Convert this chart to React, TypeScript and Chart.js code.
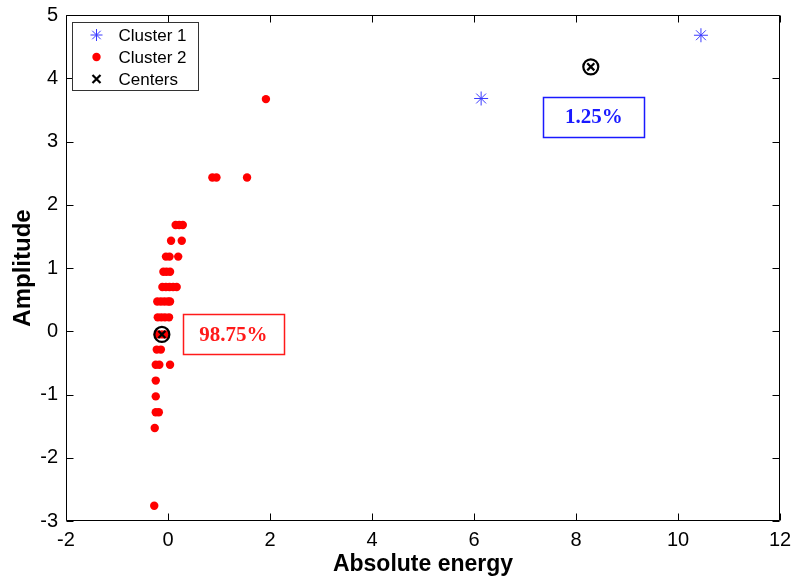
import React, { useEffect, useRef } from "react";
import { Chart, registerables } from "chart.js";

Chart.register(...registerables);

// ---- data ----
const cluster1X = [6.14, 10.45];
const cluster1Y = [3.68, 4.68];

const cluster2X = [
  1.92,
  0.87, 0.95, 1.55,
  0.15, 0.22, 0.29,
  0.06, 0.27,
  -0.04, 0.03, 0.2,
  -0.09, -0.03, 0.04,
  -0.11, -0.04, 0.03, 0.1, 0.17,
  -0.21, -0.14, -0.07, 0.0, 0.04,
  -0.2, -0.13, -0.06, 0.02,
  -0.2, -0.12, -0.05,
  -0.22, -0.14,
  -0.24, -0.17, 0.04,
  -0.24,
  -0.24,
  -0.24, -0.18,
  -0.26,
  -0.27,
];
const cluster2Y = [
  3.67,
  2.43, 2.43, 2.43,
  1.68, 1.68, 1.68,
  1.43, 1.43,
  1.18, 1.18, 1.18,
  0.94, 0.94, 0.94,
  0.7, 0.7, 0.7, 0.7, 0.7,
  0.47, 0.47, 0.47, 0.47, 0.47,
  0.22, 0.22, 0.22, 0.22,
  -0.05, -0.05, -0.05,
  -0.29, -0.29,
  -0.53, -0.53, -0.53,
  -0.78,
  -1.03,
  -1.28, -1.28,
  -1.53,
  -2.76,
];

const centersX = [8.29, -0.12];
const centersY = [4.18, -0.05];

const seriesNames = ["Cluster 1", "Cluster 2", "Centers"];
const annotationTexts = ["98.75%", "1.25%"];
const annotationColors = ["#ff1a1a", "#1a1aff"];
// boxes in data units: [xMin, xMax, yMin, yMax]
const annotationBoxes = [
  [0.29, 2.27, -0.37, 0.27],
  [7.36, 9.34, 3.07, 3.71],
];

const xMin = -2, xMax = 12, xStep = 2;
const yMin = -3, yMax = 5, yStep = 1;

const toPoints = (xs: number[], ys: number[]) => xs.map((x, i) => ({ x, y: ys[i] }));

const BLUE = "#3a3aff";
const RED = "#ff0000";

const framePlugin = {
  id: "matlabFrame",
  afterDatasetsDraw(chart: any) {
    const { ctx, chartArea: a, scales } = chart;
    ctx.save();
    ctx.strokeStyle = "#000";
    ctx.lineWidth = 1;
    const L = Math.round(a.left) + 0.5, R = Math.round(a.right) - 0.5;
    const T = Math.round(a.top) + 0.5, B = Math.round(a.bottom) - 0.5;
    ctx.beginPath();
    ctx.rect(L, T, R - L, B - T);
    const tl = 7;
    scales.x.ticks.forEach((t: any) => {
      const px = Math.round(scales.x.getPixelForValue(t.value)) + 0.5;
      ctx.moveTo(px, B); ctx.lineTo(px, B - tl);
      ctx.moveTo(px, T); ctx.lineTo(px, T + tl);
    });
    scales.y.ticks.forEach((t: any) => {
      const py = Math.round(scales.y.getPixelForValue(t.value)) + 0.5;
      ctx.moveTo(L, py); ctx.lineTo(L + tl, py);
      ctx.moveTo(R, py); ctx.lineTo(R - tl, py);
    });
    ctx.stroke();

    // annotation boxes
    annotationBoxes.forEach((b, i) => {
      const x1 = scales.x.getPixelForValue(b[0]);
      const x2 = scales.x.getPixelForValue(b[1]);
      const y1 = scales.y.getPixelForValue(b[3]);
      const y2 = scales.y.getPixelForValue(b[2]);
      ctx.strokeStyle = annotationColors[i];
      ctx.lineWidth = 1.5;
      ctx.strokeRect(Math.round(x1) + 0.5, Math.round(y1) + 0.5, Math.round(x2 - x1), Math.round(y2 - y1));
      ctx.fillStyle = annotationColors[i];
      ctx.font = "bold 21px 'Liberation Serif', 'Times New Roman', serif";
      ctx.textAlign = "center";
      ctx.textBaseline = "middle";
      ctx.fillText(annotationTexts[i], (x1 + x2) / 2, (y1 + y2) / 2 + 1);
    });
    ctx.restore();
  },
  afterDraw(chart: any) {
    const { ctx, chartArea: a } = chart;
    ctx.save();
    const bx = Math.round(a.left) + 6.5, by = Math.round(a.top) + 7.5;
    const bw = 126, bh = 68;
    ctx.fillStyle = "#fff";
    ctx.fillRect(bx, by, bw, bh);
    ctx.strokeStyle = "#333";
    ctx.lineWidth = 1;
    ctx.strokeRect(bx, by, bw, bh);
    const rows = [by + 12.5, by + 34.5, by + 56.5];
    const mx = bx + 24, tx = bx + 46;
    // Cluster 1 star
    ctx.strokeStyle = BLUE;
    ctx.lineWidth = 1;
    ctx.beginPath();
    const r = 6;
    for (let k = 0; k < 4; k++) {
      const ang = (k * Math.PI) / 4;
      ctx.moveTo(mx - r * Math.cos(ang), rows[0] - r * Math.sin(ang));
      ctx.lineTo(mx + r * Math.cos(ang), rows[0] + r * Math.sin(ang));
    }
    ctx.stroke();
    // Cluster 2 dot
    ctx.fillStyle = RED;
    ctx.beginPath();
    ctx.arc(mx, rows[1], 4.2, 0, Math.PI * 2);
    ctx.fill();
    // Centers cross
    ctx.strokeStyle = "#000";
    ctx.lineWidth = 2.2;
    ctx.beginPath();
    const c = 4;
    ctx.moveTo(mx - c, rows[2] - c); ctx.lineTo(mx + c, rows[2] + c);
    ctx.moveTo(mx - c, rows[2] + c); ctx.lineTo(mx + c, rows[2] - c);
    ctx.stroke();
    ctx.fillStyle = "#000";
    ctx.font = "17px 'Liberation Sans', Arial, sans-serif";
    ctx.textAlign = "left";
    ctx.textBaseline = "middle";
    seriesNames.forEach((n, i) => ctx.fillText(n, tx, rows[i] + 1));
    ctx.restore();
  },
};

export default function App() {
  const ref = useRef<HTMLCanvasElement | null>(null);
  useEffect(() => {
    document.body.style.margin = "0";
    if (!ref.current) return;
    const tickFont = { family: "'Liberation Sans', Arial, sans-serif", size: 20 };
    const xTitleFont = { family: "'Liberation Sans', Arial, sans-serif", size: 23, weight: "bold" as const };
    const yTitleFont = { family: "'Liberation Sans', Arial, sans-serif", size: 24, weight: "bold" as const };
    const chart = new Chart(ref.current, {
      type: "scatter",
      data: {
        datasets: [
          {
            label: seriesNames[2],
            data: toPoints(centersX, centersY),
            pointStyle: "crossRot",
            pointRadius: 5,
            borderColor: "#000",
            backgroundColor: "#000",
            pointBorderWidth: 2.2,
          },
          {
            label: "centers-ring",
            data: toPoints(centersX, centersY),
            pointStyle: "circle",
            pointRadius: 7.5,
            borderColor: "#000",
            backgroundColor: "rgba(0,0,0,0)",
            pointBorderWidth: 2.2,
          },
          {
            label: seriesNames[0],
            data: toPoints(cluster1X, cluster1Y),
            pointStyle: "star",
            pointRadius: 7,
            borderColor: BLUE,
            backgroundColor: BLUE,
            pointBorderWidth: 1,
          },
          {
            label: seriesNames[1],
            data: toPoints(cluster2X, cluster2Y),
            pointStyle: "circle",
            pointRadius: 4.2,
            borderColor: RED,
            backgroundColor: RED,
            pointBorderWidth: 0,
          },
        ],
      },
      options: {
        animation: false,
        responsive: false,
        layout: { padding: { left: 0, right: 17, top: 15, bottom: 0 } },
        plugins: { legend: { display: false }, tooltip: { enabled: false } },
        scales: {
          x: {
            type: "linear",
            min: xMin,
            max: xMax,
            ticks: { stepSize: xStep, color: "#000", font: tickFont, padding: 7, maxRotation: 0 },
            grid: { display: true, drawOnChartArea: false, drawTicks: false },
            border: { display: false },
            title: { display: true, text: "Absolute energy", color: "#000", font: xTitleFont, padding: { top: 0, bottom: 2 } },
            afterFit: (s: any) => { s.height = 59; s.paddingLeft = 0; s.paddingRight = 0; },
          },
          y: {
            type: "linear",
            min: yMin,
            max: yMax,
            ticks: { stepSize: yStep, color: "#000", font: tickFont, padding: 8 },
            grid: { display: true, drawOnChartArea: false, drawTicks: false },
            border: { display: false },
            title: { display: true, text: "Amplitude", color: "#000", font: yTitleFont, padding: { top: 9, bottom: 0 } },
            afterFit: (s: any) => { s.width = 66; s.paddingTop = 0; s.paddingBottom = 0; },
          },
        },
      },
      plugins: [framePlugin],
    });
    return () => chart.destroy();
  }, []);
  return (
    <div style={{ width: 797, height: 580, background: "#fff" }}>
      <canvas ref={ref} width={797} height={580} style={{ display: "block" }} />
    </div>
  );
}
